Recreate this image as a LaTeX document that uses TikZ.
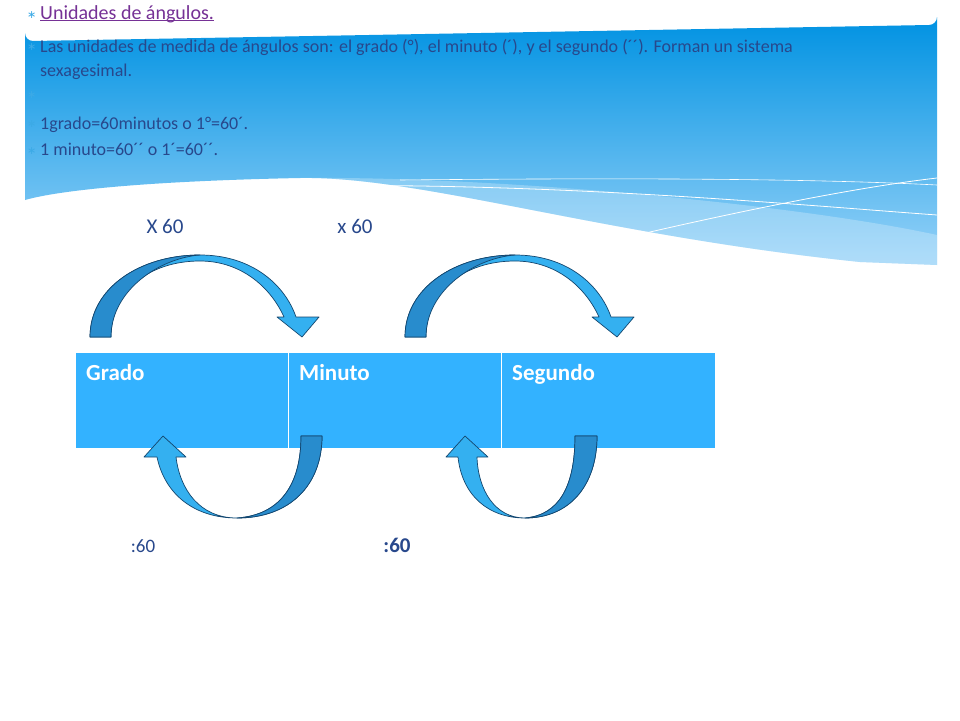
\documentclass[tikz,border=0pt]{standalone}
\usepackage{fontspec}
\setmainfont{Carlito}
\newfontfamily\symfont{DejaVu Sans}
\definecolor{bannertop}{RGB}{0,146,226}
\definecolor{bannerbot}{RGB}{150,210,248}
\definecolor{txtblue}{RGB}{40,72,140}
\definecolor{titlepurple}{RGB}{118,50,150}
\definecolor{cellblue}{RGB}{51,178,255}
\definecolor{arrowlight}{RGB}{52,176,240}
\definecolor{arrowdark}{RGB}{40,140,205}
\definecolor{arrowline}{RGB}{20,70,110}
\definecolor{bulletblue}{RGB}{60,170,230}
\tikzset{
  bullet/.style={anchor=base west,text=bulletblue,font=\symfont\fontsize{11}{13}\selectfont,inner sep=0pt},
  bodytext/.style={anchor=base west,text=txtblue,font=\fontsize{18}{21}\selectfont,inner sep=0pt},
  factor/.style={anchor=base,text=txtblue,font=\fontsize{21}{24}\selectfont},
  cell/.style={draw=white,fill=cellblue,minimum height=96pt,anchor=north west,inner sep=0pt},
  celltext/.style={anchor=base west,text=white,font=\bfseries\fontsize{23}{26}\selectfont,inner sep=0pt},
  arrowbody/.style={fill=arrowlight,draw=arrowline,line width=0.7pt,line join=round},
  arrowshade/.style={fill=arrowdark,draw=arrowline,line width=0.7pt,line join=round}
}
\begin{document}
\begin{tikzpicture}[x=1pt,y=-1pt]
\useasboundingbox (0,0) rectangle (960,720);
\fill[white] (0,0) rectangle (960,720);

%banner
\shade[top color=bannertop,bottom color=bannerbot]
  (25,200) -- (25,33) arc (180:90:8) -- (929,25) arc (90:0:8) -- (937,265)
  -- (860,262) .. controls (600,235) and (420,176) .. (300,178)
  .. controls (150,181) and (60,190) .. (25,200) -- cycle;
\fill[white,opacity=0.25] (300,178) .. controls (500,176) and (800,205) .. (937,235)
  -- (937,265) -- (860,262) .. controls (600,235) and (420,176) .. (300,178);
\draw[white,line width=0.8pt] (300,186) .. controls (550,182) and (800,205) .. (937,215);
\draw[white,line width=0.8pt] (590,246) .. controls (720,215) and (850,188) .. (937,178);
\draw[white,line width=0.6pt] (400,180) .. controls (600,178) and (800,178) .. (937,185);

%texto
\foreach \yy in {18,50,98,127,154}
  \node[bullet] at (27,\yy) {∗};
\node[bodytext,text=titlepurple,font=\fontsize{20}{22}\selectfont] (titulo) at (40,19)
  {\underbar{Unidades de ángulos.}};
\node[bodytext] (linea1) at (40,52) {Las unidades de medida de ángulos son: el grado (°), el minuto (´), y el segundo (´´). Forman un sistema};
\node[bodytext] (linea2) at (40,76) {sexagesimal.};
\node[bodytext] (linea3) at (40,129) {1grado=60minutos o 1°=60´.};
\node[bodytext] (linea4) at (40,155) {1 minuto=60´´ o 1´=60´´.};

\node[factor] (por1) at (165,233) {X 60};
\node[factor] (por2) at (355,233) {x 60};
\node[factor,font=\fontsize{19}{22}\selectfont] (div1) at (143,552) {:60};
\node[factor,font=\bfseries\fontsize{21}{24}\selectfont] (div2) at (397,552) {:60};

%tabla
\node[cell,minimum width=213pt] (grado) at (75,352) {};
\node[cell,minimum width=213pt] (minuto) at (288,352) {};
\node[cell,minimum width=214pt] (segundo) at (501,352) {};
\node[celltext] at (86,380) {Grado};
\node[celltext] at (299,380) {Minuto};
\node[celltext] at (512,380) {Segundo};

%flechas de arriba
\foreach \dx in {0,315}{
  \begin{scope}[xshift=\dx]
  \draw[arrowbody] (90,337) .. controls (90,288) and (140,255) .. (200,255)
    .. controls (252,255) and (285,285) .. (296,317) -- (319,317) -- (302,337)
    -- (277,317) -- (284,317) .. controls (270,286) and (240,261) .. (200,261)
    .. controls (150,261) and (111,290) .. (111,337) -- cycle;
  \draw[arrowshade] (90,337) .. controls (90,288) and (140,255) .. (200,255)
    .. controls (160,258) and (111,290) .. (111,337) -- cycle;
  \end{scope}
}

%flechas de abajo
\draw[arrowbody] (322,436) .. controls (322,485) and (290,518) .. (237,518)
  .. controls (200,518) and (180,490) .. (176,457) -- (186,457) -- (163,436)
  -- (144,457) -- (157,457) .. controls (165,495) and (195,518) .. (237,518)
  .. controls (280,515) and (301,485) .. (301,436) -- cycle;
\draw[arrowshade] (322,436) .. controls (322,485) and (290,518) .. (237,518)
  .. controls (280,515) and (301,485) .. (301,436) -- cycle;
\draw[arrowbody] (597,436) .. controls (597,485) and (570,518) .. (525,518)
  .. controls (495,518) and (478,490) .. (477,457) -- (488,457) -- (465,436)
  -- (446,457) -- (458,457) .. controls (462,495) and (488,518) .. (525,518)
  .. controls (560,515) and (575,485) .. (575,436) -- cycle;
\draw[arrowshade] (597,436) .. controls (597,485) and (570,518) .. (525,518)
  .. controls (560,515) and (575,485) .. (575,436) -- cycle;
\end{tikzpicture}
\end{document}
